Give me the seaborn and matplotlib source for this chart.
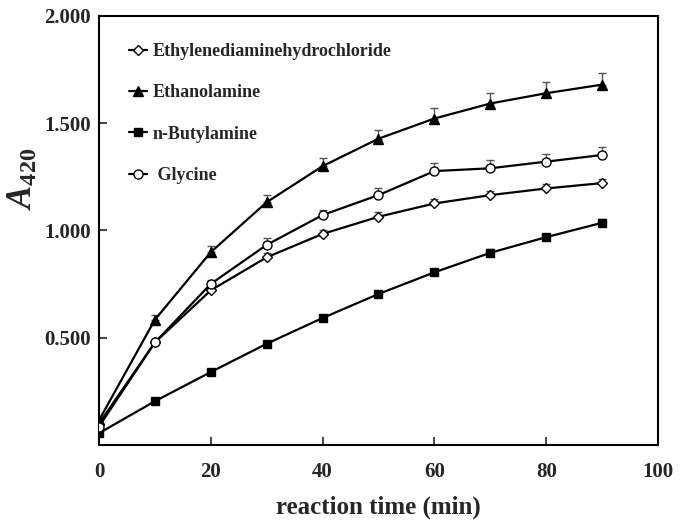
import numpy as np
import pandas as pd
import matplotlib
matplotlib.use("Agg")
import matplotlib.pyplot as plt
import seaborn as sns

time = [0, 10, 20, 30, 40, 50, 60, 70, 80, 90]
ethylenediamine = [0.10, 0.478, 0.721, 0.875, 0.984, 1.064, 1.126, 1.165, 1.196, 1.221]
ethylenediamine_err = [0.01, 0.012, 0.02, 0.02, 0.02, 0.02, 0.02, 0.02, 0.02, 0.02]
ethanolamine = [0.115, 0.584, 0.899, 1.132, 1.300, 1.428, 1.522, 1.592, 1.640, 1.680]
ethanolamine_err = [0.01, 0.02, 0.03, 0.035, 0.04, 0.042, 0.05, 0.05, 0.053, 0.053]
butylamine = [0.055, 0.204, 0.340, 0.472, 0.592, 0.704, 0.805, 0.896, 0.969, 1.036]
butylamine_err = [0.005, 0.006, 0.008, 0.01, 0.01, 0.015, 0.015, 0.02, 0.017, 0.017]
glycine = [0.086, 0.478, 0.751, 0.933, 1.072, 1.165, 1.277, 1.290, 1.321, 1.352]
glycine_err = [0.01, 0.012, 0.02, 0.03, 0.025, 0.033, 0.039, 0.039, 0.035, 0.037]

labels = ["Ethylenediaminehydrochloride", "Ethanolamine", "n-Butylamine", " Glycine"]
values = [ethylenediamine, ethanolamine, butylamine, glycine]
errors = [ethylenediamine_err, ethanolamine_err, butylamine_err, glycine_err]
markers = {labels[0]: "D", labels[1]: "^", labels[2]: "s", labels[3]: "o"}
facecolors = {labels[0]: "white", labels[1]: "black", labels[2]: "black", labels[3]: "white"}
msizes = {labels[0]: 5, labels[1]: 6.5, labels[2]: 5.5, labels[3]: 6.5}

df = pd.DataFrame({
    "time": np.tile(time, len(labels)),
    "A": np.concatenate(values),
    "err": np.concatenate(errors),
    "compound": np.repeat(labels, len(time)),
})

sns.set_theme(style="white")
plt.rcParams["font.family"] = ["Liberation Serif", "DejaVu Serif"]
plt.rcParams["font.weight"] = "bold"
plt.rcParams["mathtext.fontset"] = "custom"
plt.rcParams["mathtext.it"] = "Liberation Serif:italic"
plt.rcParams["mathtext.rm"] = "Liberation Serif:bold"

fig = plt.figure(figsize=(6.85, 5.28), dpi=100)
ax = fig.add_axes([0.1445, 0.1572, 0.8161, 0.8125])

# error bars (upper only)
for lab in labels:
    sub = df[df["compound"] == lab]
    ax.errorbar(sub["time"], sub["A"], yerr=[np.zeros(len(sub)), sub["err"]],
                fmt="none", ecolor="#555555", elinewidth=1.0, capsize=3, capthick=1.0, zorder=2)

for lab in labels:
    sub = df[df["compound"] == lab]
    sns.lineplot(data=sub, x="time", y="A", ax=ax, color="black", linewidth=1.6,
                 marker=markers[lab], markersize=msizes[lab], markerfacecolor=facecolors[lab],
                 markeredgecolor="black", markeredgewidth=1.0, label=lab, zorder=3)

ax.set_xlim(0, 100)
ax.set_ylim(0, 2.0)
ax.set_xticks([0, 20, 40, 60, 80, 100])
ax.set_yticks([0.5, 1.0, 1.5, 2.0])
ax.set_yticklabels(["0.500", "1.000", "1.500", "2.000"])
ax.tick_params(axis="both", which="both", direction="in", length=6, width=1.2,
               labelsize=15, bottom=True, left=True, top=False, right=False)
ax.tick_params(axis="x", pad=12)
ax.tick_params(axis="y", pad=6)
for t in ax.get_xticklabels() + ax.get_yticklabels():
    t.set_fontweight("bold")
for s in ax.spines.values():
    s.set_color("black")
    s.set_linewidth(1.5)

ax.set_xlabel("reaction time (min)", fontsize=18, fontweight="bold", labelpad=10)
ax.set_ylabel(r"$\mathit{A}_{\mathrm{420}}$", fontsize=25)
ax.yaxis.set_label_coords(-0.106, 0.62)

leg = ax.legend(loc="upper left", bbox_to_anchor=(0.025, 0.975), frameon=False,
                prop={"family": "Liberation Serif", "weight": "bold", "size": 13},
                handlelength=1.0, handletextpad=0.3, labelspacing=1.35)

fig.savefig("out.png", dpi=100)
